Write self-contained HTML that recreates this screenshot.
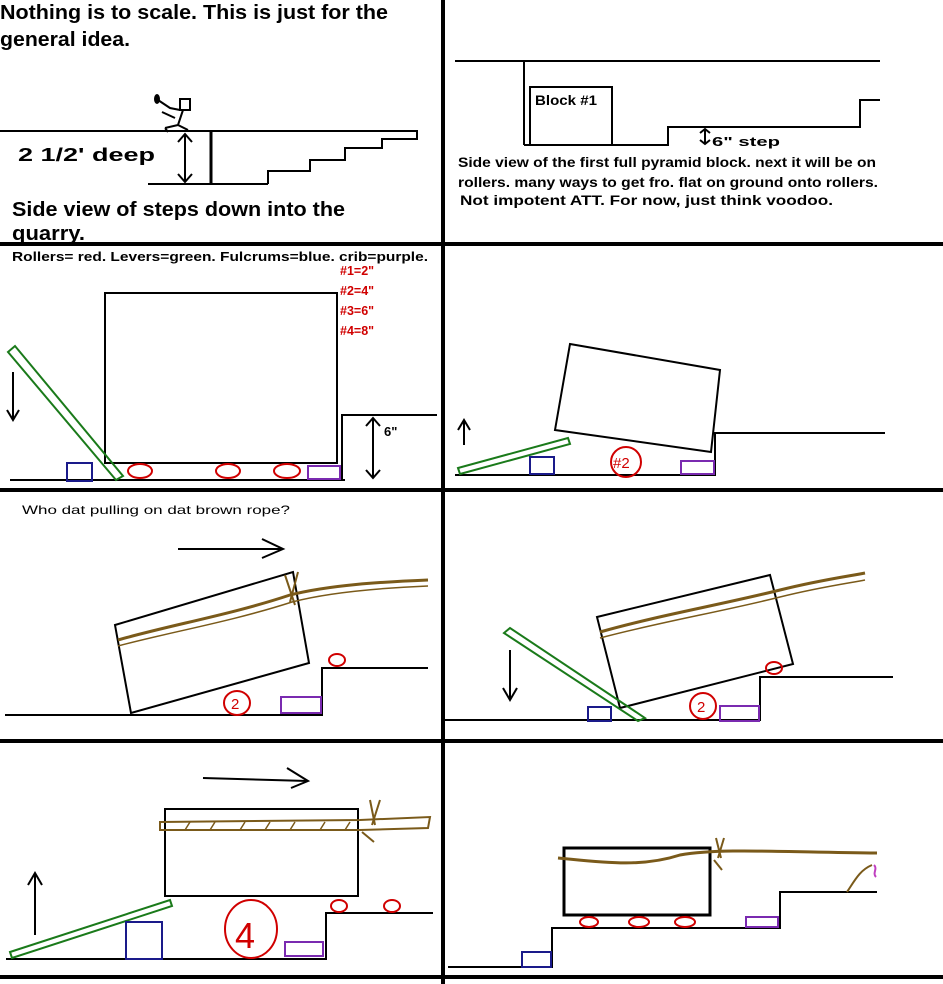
<!DOCTYPE html>
<html><head><meta charset="utf-8"><style>
html,body{margin:0;padding:0;background:#fff;}
svg{display:block;}
text{font-family:"Liberation Sans",sans-serif;}
</style></head><body>
<svg width="943" height="984" viewBox="0 0 943 984" xmlns="http://www.w3.org/2000/svg">
<rect width="943" height="984" fill="#fff"/>
<!-- grid -->
<g stroke="#000" stroke-width="4" fill="none">
<line x1="443" y1="0" x2="443" y2="984"/>
<line x1="0" y1="244" x2="943" y2="244"/>
<line x1="0" y1="490" x2="943" y2="490"/>
<line x1="0" y1="741" x2="943" y2="741"/>
<line x1="0" y1="977" x2="943" y2="977"/>
</g>

<!-- Panel 1 -->
<text x="0" y="19" font-size="20" font-weight="bold" textLength="388" lengthAdjust="spacingAndGlyphs">Nothing is to scale. This is just for the</text>
<text x="0" y="46" font-size="20" font-weight="bold" textLength="130" lengthAdjust="spacingAndGlyphs">general idea.</text>
<g stroke="#000" stroke-width="2" fill="none">
<line x1="0" y1="131" x2="418" y2="131"/>
<line x1="148" y1="184" x2="268" y2="184"/>
<polyline points="268,184 268,171 310,171 310,160 345,160 345,148 382,148 382,139 417,139 417,131"/>
<line x1="211" y1="131" x2="211" y2="184" stroke-width="3"/>
<line x1="185" y1="134" x2="185" y2="182"/>
<polyline points="178,142 185,134 192,142"/>
<polyline points="178,174 185,182 192,174"/>
<rect x="180" y="99" width="10" height="11"/>
<path d="M158,100 L170,108 L180,110 M183,110 L178,125 L165,128 M175,118 L162,112 M178,125 L188,130 M165,128 L168,132"/>
</g>
<ellipse cx="157" cy="99" rx="3" ry="5" fill="#000"/>
<text x="18" y="161" font-size="18" font-weight="bold" textLength="137" lengthAdjust="spacingAndGlyphs">2 1/2' deep</text>
<text x="12" y="216" font-size="20" font-weight="bold" textLength="333" lengthAdjust="spacingAndGlyphs">Side view of steps down into the</text>
<text x="12" y="240" font-size="20" font-weight="bold" textLength="73" lengthAdjust="spacingAndGlyphs">quarry.</text>

<!-- Panel 2 -->
<g stroke="#000" stroke-width="2" fill="none">
<line x1="455" y1="61" x2="880" y2="61"/>
<line x1="524" y1="61" x2="524" y2="145"/>
<rect x="530" y="87" width="82" height="58"/>
<polyline points="524,145 668,145 668,127 860,127 860,100 880,100"/>
<line x1="705" y1="129" x2="705" y2="144"/>
<polyline points="700,133 705,129 710,133"/>
<polyline points="700,140 705,144 710,140"/>
</g>
<text x="535" y="105" font-size="14" font-weight="bold" textLength="62" lengthAdjust="spacingAndGlyphs">Block #1</text>
<text x="712" y="146" font-size="13" font-weight="bold" textLength="68" lengthAdjust="spacingAndGlyphs">6" step</text>
<text x="458" y="167" font-size="14" font-weight="bold" textLength="418" lengthAdjust="spacingAndGlyphs">Side view of the first full pyramid block. next it will be on</text>
<text x="458" y="187" font-size="14" font-weight="bold" textLength="420" lengthAdjust="spacingAndGlyphs">rollers. many ways to get fro. flat on ground onto rollers.</text>
<text x="460" y="205" font-size="14" font-weight="bold" textLength="373" lengthAdjust="spacingAndGlyphs">Not impotent ATT. For now, just think voodoo.</text>

<!-- Panel 3 -->
<text x="12" y="261" font-size="13" font-weight="bold" textLength="416" lengthAdjust="spacingAndGlyphs">Rollers= red. Levers=green. Fulcrums=blue. crib=purple.</text>
<g fill="#d00000" font-size="12.5" font-weight="bold">
<text x="340" y="275">#1=2"</text><text x="340" y="295">#2=4"</text>
<text x="340" y="315">#3=6"</text><text x="340" y="335">#4=8"</text>
</g>
<g stroke="#000" stroke-width="2" fill="none">
<rect x="105" y="293" width="232" height="170"/>
<line x1="10" y1="480" x2="345" y2="480"/>
<polyline points="342,480 342,415 437,415"/>
<line x1="373" y1="418" x2="373" y2="478"/>
<polyline points="366,426 373,418 380,426"/>
<polyline points="366,470 373,478 380,470"/>
<line x1="13" y1="372" x2="13" y2="420"/>
<polyline points="7,410 13,420 19,410"/>
</g>
<text x="384" y="436" font-size="13" font-weight="bold">6"</text>
<polygon points="8,352 15,346 123,476 116,480" fill="none" stroke="#1a7a1a" stroke-width="2"/>
<rect x="67" y="463" width="25" height="18" fill="none" stroke="#1a1a8a" stroke-width="2"/>
<g fill="none" stroke="#d00000" stroke-width="2">
<ellipse cx="140" cy="471" rx="12" ry="7"/>
<ellipse cx="228" cy="471" rx="12" ry="7"/>
<ellipse cx="287" cy="471" rx="13" ry="7"/>
</g>
<rect x="308" y="466" width="32" height="13" fill="none" stroke="#7a2ab0" stroke-width="2"/>

<!-- Panel 4 -->
<g stroke="#000" stroke-width="2" fill="none">
<polygon points="570,344 720,370 711,452 555,430"/>
<polyline points="455,475 715,475 715,433 885,433"/>
<line x1="464" y1="445" x2="464" y2="420"/>
<polyline points="458,430 464,420 470,430"/>
</g>
<polygon points="458,468 568,438 570,444 460,474" fill="none" stroke="#1a7a1a" stroke-width="2"/>
<rect x="530" y="457" width="24" height="17" fill="none" stroke="#1a1a8a" stroke-width="2"/>
<circle cx="626" cy="462" r="15" fill="none" stroke="#d00000" stroke-width="2"/>
<text x="613" y="468" font-size="15" fill="#d00000">#2</text>
<rect x="681" y="461" width="33" height="13" fill="none" stroke="#7a2ab0" stroke-width="2"/>

<!-- Panel 5 -->
<text x="22" y="514" font-size="12" textLength="268" lengthAdjust="spacingAndGlyphs">Who dat pulling on dat brown rope?</text>
<g stroke="#000" stroke-width="2" fill="none">
<line x1="178" y1="549" x2="283" y2="549"/>
<polyline points="262,539 283,549 262,558"/>
<polygon points="115,625 293,572 309,663 131,713"/>
<polyline points="5,715 322,715 322,668 428,668"/>
</g>
<path d="M118,640 C170,625 230,615 290,595 C330,585 380,582 428,580" stroke="#7a5a1a" stroke-width="3" fill="none"/>
<path d="M118,646 C170,632 230,622 292,602 C330,592 380,588 428,586" stroke="#7a5a1a" stroke-width="1.5" fill="none"/>
<path d="M285,575 l10,30 M298,572 l-8,30" stroke="#7a5a1a" stroke-width="2"/>
<ellipse cx="237" cy="703" rx="13" ry="12" fill="none" stroke="#d00000" stroke-width="2"/>
<text x="231" y="709" font-size="15" fill="#d00000">2</text>
<ellipse cx="337" cy="660" rx="8" ry="6" fill="none" stroke="#d00000" stroke-width="2"/>
<rect x="281" y="697" width="40" height="16" fill="none" stroke="#7a2ab0" stroke-width="2"/>

<!-- Panel 6 -->
<g stroke="#000" stroke-width="2" fill="none">
<polygon points="597,617 770,575 793,664 620,708"/>
<polyline points="445,720 760,720 760,677 893,677"/>
<line x1="510" y1="650" x2="510" y2="700"/>
<polyline points="503,688 510,700 517,688"/>
</g>
<path d="M600,632 C660,615 720,605 780,590 C820,580 850,576 865,573" stroke="#7a5a1a" stroke-width="3" fill="none"/>
<path d="M600,638 C660,622 720,612 780,597 C820,587 850,583 865,580" stroke="#7a5a1a" stroke-width="1.5" fill="none"/>
<polygon points="504,633 510,628 645,718 638,721" fill="none" stroke="#1a7a1a" stroke-width="2"/>
<rect x="588" y="707" width="23" height="14" fill="none" stroke="#1a1a8a" stroke-width="2"/>
<ellipse cx="703" cy="706" rx="13" ry="13" fill="none" stroke="#d00000" stroke-width="2"/>
<text x="697" y="712" font-size="15" fill="#d00000">2</text>
<ellipse cx="774" cy="668" rx="8" ry="6" fill="none" stroke="#d00000" stroke-width="2"/>
<rect x="720" y="706" width="39" height="15" fill="none" stroke="#7a2ab0" stroke-width="2"/>

<!-- Panel 7 -->
<g stroke="#000" stroke-width="2" fill="none">
<line x1="203" y1="778" x2="308" y2="781"/>
<polyline points="287,768 308,781 291,788"/>
<rect x="165" y="809" width="193" height="87"/>
<polyline points="6,959 326,959 326,913 433,913"/>
<line x1="35" y1="935" x2="35" y2="873"/>
<polyline points="28,885 35,873 42,885"/>
</g>
<path d="M160,822 L360,820 L430,817 L428,828 L360,830 L160,830 Z" fill="none" stroke="#7a5a1a" stroke-width="2"/>
<path d="M185,830 l5,-8 M210,830 l5,-8 M240,830 l5,-8 M265,830 l5,-8 M290,830 l5,-8 M320,830 l5,-8 M345,830 l5,-8" stroke="#7a5a1a" stroke-width="1.5"/>
<path d="M370,800 l5,25 M380,800 l-8,25 M362,832 l12,10" stroke="#7a5a1a" stroke-width="2" fill="none"/>
<polygon points="10,952 170,900 172,906 12,958" fill="none" stroke="#1a7a1a" stroke-width="2"/>
<rect x="126" y="922" width="36" height="37" fill="none" stroke="#1a1a8a" stroke-width="2"/>
<ellipse cx="251" cy="929" rx="26" ry="29" fill="none" stroke="#d00000" stroke-width="2"/>
<text x="235" y="948" font-size="36" fill="#d00000">4</text>
<rect x="285" y="942" width="38" height="14" fill="none" stroke="#7a2ab0" stroke-width="2"/>
<ellipse cx="339" cy="906" rx="8" ry="6" fill="none" stroke="#d00000" stroke-width="2"/>
<ellipse cx="392" cy="906" rx="8" ry="6" fill="none" stroke="#d00000" stroke-width="2"/>

<!-- Panel 8 -->
<g stroke="#000" stroke-width="2" fill="none">
<rect x="564" y="848" width="146" height="67" stroke-width="3"/>
<polyline points="448,967 552,967 552,928 780,928 780,892 877,892"/>
</g>
<path d="M558,858 C600,862 640,868 680,855 C720,848 780,852 877,853" stroke="#7a5a1a" stroke-width="3" fill="none"/>
<path d="M716,838 l5,20 M724,838 l-6,20 M714,860 l8,10 M847,892 C855,880 860,870 872,865" stroke="#7a5a1a" stroke-width="2" fill="none"/>
<path d="M874,865 c4,4 -2,8 2,12" stroke="#c040c0" stroke-width="2" fill="none"/>
<rect x="522" y="952" width="29" height="15" fill="none" stroke="#1a1a8a" stroke-width="2"/>
<g fill="none" stroke="#d00000" stroke-width="2">
<ellipse cx="589" cy="922" rx="9" ry="5"/>
<ellipse cx="639" cy="922" rx="10" ry="5"/>
<ellipse cx="685" cy="922" rx="10" ry="5"/>
</g>
<rect x="746" y="917" width="32" height="10" fill="none" stroke="#7a2ab0" stroke-width="2"/>
</svg>
</body></html>
